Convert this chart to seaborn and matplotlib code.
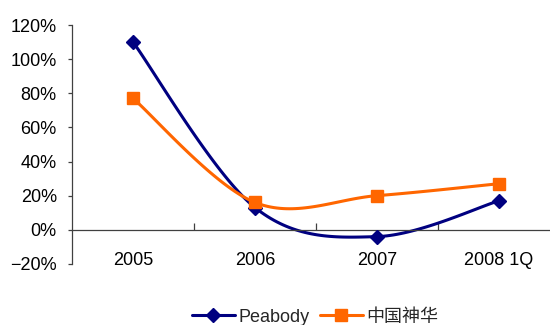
import numpy as np
import pandas as pd
import matplotlib
matplotlib.use("Agg")
import matplotlib.pyplot as plt
import seaborn as sns
from matplotlib.lines import Line2D
from matplotlib.ticker import FixedLocator, PercentFormatter

categories = ["2005", "2006", "2007", "2008 1Q"]
peabody = [110, 13, -4, 17]
shenhua = [77, 16, 20, 27]
series_names = ["Peabody", "中国神华"]

sns.set_theme(style="white")
plt.rcParams['font.family'] = ['Liberation Sans', 'Noto Sans CJK SC', 'DejaVu Sans']

def smooth(xs, ys, n=40):
    P = np.column_stack([xs, ys]).astype(float)
    m = len(P)
    out = []
    for i in range(m - 1):
        p0 = P[max(i - 1, 0)]
        p1 = P[i]
        p2 = P[i + 1]
        p3 = P[min(i + 2, m - 1)]
        b1 = p1 + (p2 - p0) / 6.0
        b2 = p2 - (p3 - p1) / 6.0
        t = np.linspace(0, 1, n)[:, None]
        seg = ((1 - t) ** 3) * p1 + 3 * t * (1 - t) ** 2 * b1 + 3 * t ** 2 * (1 - t) * b2 + t ** 3 * p2
        out.append(seg if i == 0 else seg[1:])
    return np.vstack(out)

fig = plt.figure(figsize=(5.5, 3.25), dpi=100)
ax = fig.add_axes([0.131, 0.188, 0.869, 0.735])

x = np.arange(len(categories))
styles = [("#000080", "D", 7.5), ("#FF6600", "s", 9)]
handles = []
for name, vals, (col, mk, ms) in zip(series_names, [peabody, shenhua], styles):
    curve = smooth(x, vals)
    dfc = pd.DataFrame({"x": curve[:, 0], "y": curve[:, 1]})
    sns.lineplot(data=dfc, x="x", y="y", ax=ax, color=col, lw=2.2, sort=False, estimator=None)
    dfp = pd.DataFrame({"x": x, "y": vals})
    ax.plot(dfp["x"], dfp["y"], ls="none", marker=mk, ms=ms, color=col, mec=col, zorder=5)
    handles.append(Line2D([0], [0], color=col, lw=2.2, marker=mk, ms=ms, mec=col))

ax.set_xlim(-0.5, 3.418)
ax.set_ylim(-20, 120)
ax.set_xlabel("")
ax.set_ylabel("")

ax.spines["top"].set_visible(False)
ax.spines["right"].set_visible(False)
ax.spines["bottom"].set_position(("data", 0))
for s in ["left", "bottom"]:
    ax.spines[s].set_color("#404040")
    ax.spines[s].set_linewidth(0.9)

ax.yaxis.set_major_locator(FixedLocator(np.arange(-20, 121, 20)))
ax.yaxis.set_major_formatter(PercentFormatter(decimals=0))
ax.tick_params(axis="y", direction="out", length=3, width=0.9, color="#404040",
               labelsize=13, pad=8, left=True, labelcolor="black")

ax.set_xticks(x)
ax.set_xticklabels(categories)
ax.set_xticks([0.5, 1.5, 2.5], minor=True)
ax.tick_params(axis="x", which="major", length=0, pad=16, labelsize=13, labelcolor="black")
ax.tick_params(axis="x", which="minor", direction="in", length=5, width=0.9, color="#404040", bottom=True)

fig.legend(handles, series_names, loc="center", bbox_to_anchor=(0.573, 0.024), ncol=2,
           frameon=False, fontsize=13, handlelength=2.4, columnspacing=0.55, handletextpad=0.2)

fig.savefig("out.png", dpi=100, facecolor="white")
